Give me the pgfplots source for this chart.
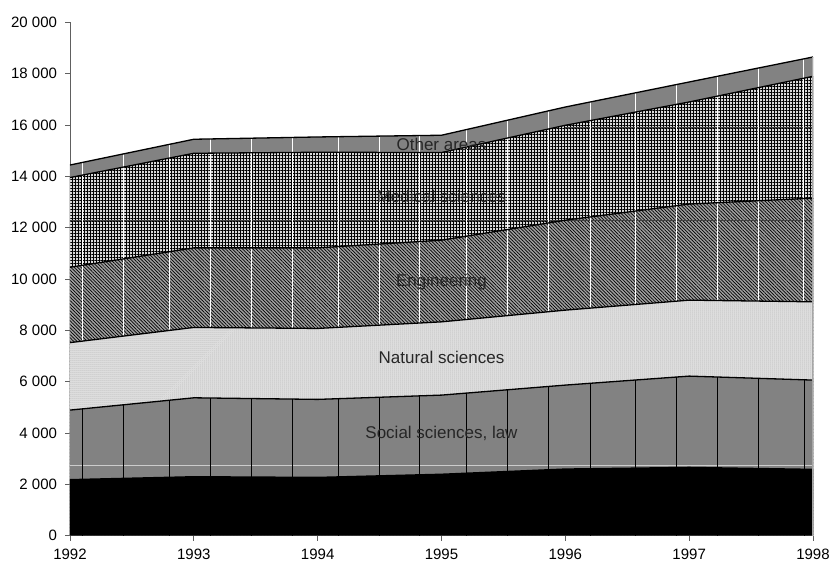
\documentclass[border=0pt]{standalone}
\usepackage{pgfplots}
\pgfplotsset{compat=1.18}
\usepackage{pgfplotstable}
\usetikzlibrary{patterns,patterns.meta}
\usepackage{fontspec}
\setmainfont{Liberation Sans}
\definecolor{midgray}{HTML}{828282}
\definecolor{enggray}{HTML}{A0A0A0}
\definecolor{axgray}{HTML}{606060}

% cumulative tops of the stacked layers
\pgfplotstableread{
year black social natural eng med other
1992 2210 4893 7521 10457 13952 14440
1993 2324 5372 8113 11212 14898 15444
1994 2297 5310 8074 11212 14937 15533
1995 2420 5477 8331 11512 14926 15600
1996 2623 5867 8787 12290 15988 16700
1997 2687 6217 9176 12920 16896 17675
1998 2610 6062 9111 13150 17896 18648
}\cum

% positions of the thin vertical seams in the fills
\pgfplotstableread{
x top low
1992.099 20000 4940
1992.430 20000 5099
1992.802 20000 5277
1993.136 20000 5364
1993.467 20000 5343
1993.794 20000 5323
1994.166 20000 5338
1994.497 20000 5393
1994.825 20000 5448
1995.202 20000 5556
1995.533 20000 5685
1995.864 20000 5814
1996.200 20000 5937
1996.567 20000 6065
1996.897 20000 6181
1997.225 20000 6182
1997.559 20000 6130
1997.927 20000 6073
}\seams

\begin{document}
\begin{tikzpicture}
\path[use as bounding box] (-70bp,-27.3bp) rectangle (760bp,535.7bp);
\begin{axis}[
  at={(0bp,0bp)}, anchor=south west,
  scale only axis, width=743bp, height=513.4bp,
  xmin=1992, xmax=1998, ymin=0, ymax=20000,
  scaled y ticks=false, scaled x ticks=false,
  axis x line=bottom, axis y line=left,
  axis line style={-, draw=axgray, line width=0.9bp},
  tick align=outside, major tick length=5bp,
  tick style={draw=axgray, line width=0.9bp},
  xtick={1992,1993,1994,1995,1996,1997,1998},
  xticklabels={1992,1993,1994,1995,1996,1997,1998},
  ytick={0,2000,4000,6000,8000,10000,12000,14000,16000,18000,20000},
  yticklabels={0,{2 000},{4 000},{6 000},{8 000},{10 000},{12 000},{14 000},{16 000},{18 000},{20 000}},
  ticklabel style={font=\fontsize{15bp}{17bp}\selectfont, text=black},
  xticklabel style={yshift=-4.5bp},
  yticklabel style={xshift=-4.5bp},
]
% painter-ordered cumulative areas
\addplot[draw=none, fill=midgray] table[x=year,y=other]{\cum} \closedcycle;
\addplot[draw=none, fill=white!85!black,
  postaction={pattern={Hatch[distance=3bp, line width=0.6bp]}, pattern color=black}]
  table[x=year,y=med]{\cum} \closedcycle;
\addplot[draw=none, fill=enggray,
  postaction={pattern={Lines[angle=-45, distance=2.4bp, line width=0.7bp]}, pattern color=black}]
  table[x=year,y=eng]{\cum} \closedcycle;
% horizontal seams
\addplot[black!75, line width=0.8bp] coordinates {(1992,12300) (1998,12300)};
\addplot[black!75, line width=0.8bp] coordinates {(1996,15922) (1998,15922)};
% white vertical seams
\addplot[white, line width=1bp, ycomb] table[x=x,y=top]{\seams};
% natural and social
\addplot[draw=none, fill=white!90!black,
  postaction={pattern={Dots[radius=0.5bp, distance=2bp]}, pattern color=black!45}]
  table[x=year,y=natural]{\cum} \closedcycle;
\addplot[draw=none, fill=midgray] table[x=year,y=social]{\cum} \closedcycle;
\addplot[white!80!black, line width=0.9bp] coordinates {(1992,2750) (1998,2750)};
\addplot[black, line width=0.9bp, ycomb] table[x=x,y=low]{\seams};
% black base layer
\addplot[draw=none, fill=black] table[x=year,y=black]{\cum} \closedcycle;
% boundary lines
\addplot[black, line width=1.3bp] table[x=year,y=social]{\cum};
\addplot[black, line width=1.3bp] table[x=year,y=natural]{\cum};
\addplot[black, line width=1.3bp] table[x=year,y=eng]{\cum};
\addplot[black, line width=1.3bp] table[x=year,y=med]{\cum};
\addplot[black, line width=1.3bp] table[x=year,y=other]{\cum};
\addplot[white!65!black, line width=1.2bp] coordinates {(1998,0) (1998,18648)};
% labels
\node[font=\fontsize{17bp}{20bp}\selectfont, text=black!85] at (axis cs:1995,15249) {Other areas};
\node[font=\fontsize{17bp}{20bp}\selectfont, text=black!85] at (axis cs:1995,13225) {Medical sciences};
\node[font=\fontsize{17bp}{20bp}\selectfont, text=black!85] at (axis cs:1995,9877) {Engineering};
\node[font=\fontsize{17bp}{20bp}\selectfont, text=black!85] at (axis cs:1995,6957) {Natural sciences};
\node[font=\fontsize{17bp}{20bp}\selectfont, text=black!85] at (axis cs:1995,3998) {Social sciences, law};
\end{axis}
\end{tikzpicture}
\end{document}
